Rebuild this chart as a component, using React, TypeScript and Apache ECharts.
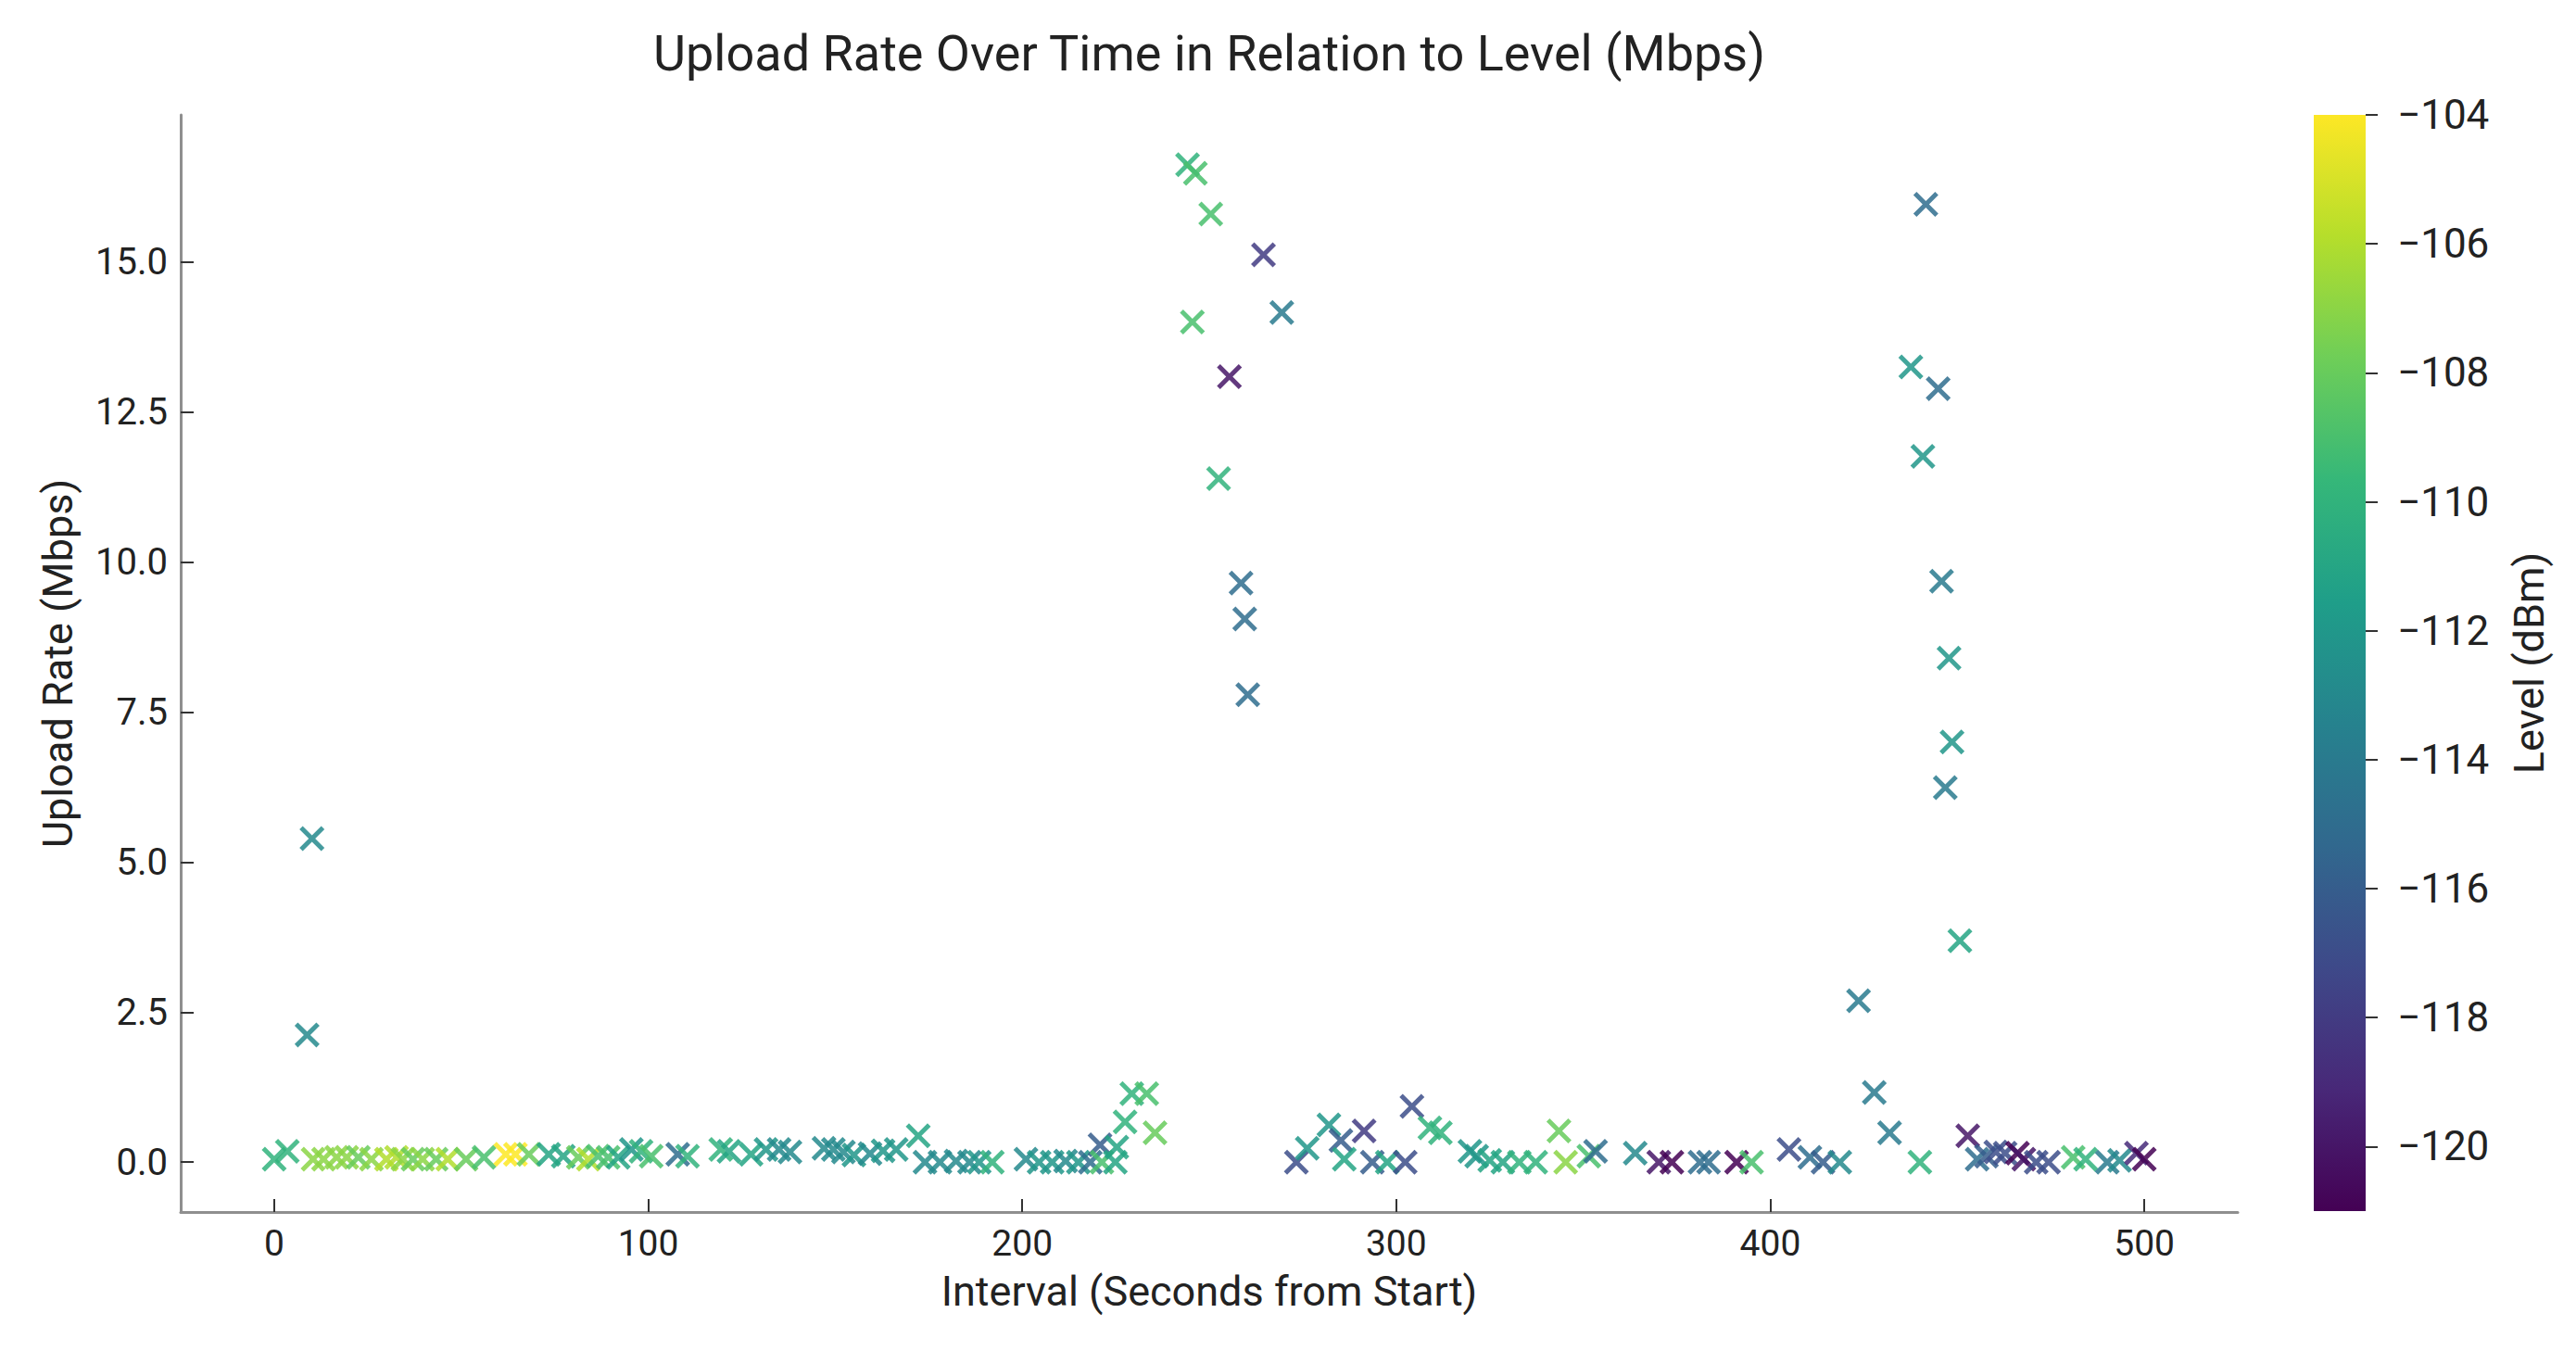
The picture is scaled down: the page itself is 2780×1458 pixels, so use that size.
import React, { useEffect, useRef } from "react";
import * as echarts from "echarts";

// Seconds from the start of the session for every sample
const intervals = [
  0, 3.5, 8.8, 10.1, 10.4, 13.2, 16.7, 19.4, 22.5, 26.0, 30.0, 32.7, 34.4, 37.1, 39.7, 43.3, 46.4, 51.3,
  56.1, 61.9, 64.5, 68.1, 73.4, 77.3, 81.3, 84.0, 86.6, 89.3, 92.0, 95.5, 98.1, 100.8, 107.9, 110.5,
  119.4, 121.6, 127.5, 131.5, 135.0, 137.9, 147.0, 149.5, 152.2, 155.0, 159.3, 162.8, 166.3, 172.2,
  174.0, 178.0, 182.3, 185.9, 188.5, 192.0, 201.0, 204.5, 208.0, 211.6, 215.0, 218.2, 220.8, 221.3,
  224.9, 225.3, 227.5, 229.3, 233.3, 235.5, 244.2, 245.5, 246.3, 250.4, 252.5, 255.4, 258.5, 259.5,
  260.3, 264.5, 269.4, 273.3, 276.2, 282.0, 285.2, 286.1, 291.4, 293.6, 297.6, 302.4, 304.2, 309.0,
  311.8, 319.7, 321.5, 325.0, 328.5, 332.9, 337.3, 343.5, 345.3, 351.5, 353.3, 363.9, 370.2, 373.7,
  381.2, 383.5, 391.0, 395.0, 405.0, 410.6, 414.1, 418.6, 423.6, 427.8, 431.9, 437.6, 440.0, 440.8,
  441.6, 444.9, 445.8, 446.8, 447.8, 448.6, 450.7, 452.8, 455.3, 457.8, 460.3, 462.8, 466.1, 467.8,
  471.1, 474.4, 481.0, 484.3, 490.1, 493.4, 497.9, 500.0,
];

// Upload rate in Mbps
const uploads = [
  0.05, 0.18, 2.12, 5.39, 0.05, 0.05, 0.08, 0.08, 0.08, 0.05, 0.05, 0.08, 0.05, 0.05, 0.05, 0.05, 0.05, 0.05,
  0.08, 0.13, 0.13, 0.13, 0.13, 0.1, 0.08, 0.05, 0.1, 0.08, 0.08, 0.21, 0.18, 0.1, 0.13, 0.1,
  0.21, 0.18, 0.13, 0.21, 0.21, 0.17, 0.23, 0.21, 0.17, 0.12, 0.14, 0.19, 0.21, 0.44,
  0.0, 0.0, 0.02, 0.0, 0.0, 0.0, 0.05, 0.0, 0.0, 0.02, 0.0, 0.0, 0.29, 0.0,
  0.0, 0.25, 0.67, 1.14, 1.14, 0.49, 16.62, 14.0, 16.48, 15.8, 11.39, 13.09, 9.65, 9.05,
  7.79, 15.12, 14.16, 0.0, 0.23, 0.62, 0.36, 0.05, 0.52, 0.0, 0.0, 0.0, 0.93, 0.57,
  0.49, 0.18, 0.1, 0.03, 0.0, 0.0, 0.0, 0.52, 0.0, 0.1, 0.18, 0.15, 0.0, 0.0,
  0.0, 0.0, 0.0, 0.0, 0.21, 0.08, 0.0, 0.0, 2.69, 1.16, 0.49, 13.25, 0.0, 11.76,
  15.96, 12.89, 9.68, 6.24, 8.4, 7.0, 3.69, 0.44, 0.05, 0.1, 0.17, 0.15, 0.15, 0.05,
  0.0, 0.0, 0.08, 0.05, 0.0, 0.03, 0.15, 0.05,
];

// Signal level in dBm
const levels = [
  -110, -110, -113, -113, -107, -107, -107, -107, -108, -107, -106, -106, -107, -108, -107, -108, -106, -108,
  -109, -104, -104, -108, -111, -111, -108, -106, -109, -109, -111, -112, -110, -109, -115, -110,
  -110, -111, -111, -112, -113, -113, -113, -113, -113, -112, -113, -112, -112, -111,
  -113, -113, -113, -113, -112, -110, -113, -112, -112, -113, -112, -115, -116, -109,
  -111, -111, -110, -110, -109, -108, -110, -109, -109, -109, -110, -120, -115, -115,
  -115, -118, -114, -117, -112, -112, -116, -111, -118, -116, -111, -117, -117, -110,
  -110, -112, -112, -111, -111, -110, -110, -108, -107, -109, -115, -113, -120, -121,
  -115, -115, -121, -109, -117, -115, -116, -113, -114, -114, -114, -112, -110, -112,
  -115, -115, -114, -114, -112, -112, -111, -120, -115, -116, -117, -117, -121, -120,
  -117, -117, -109, -110, -114, -113, -119, -121,
];

const xTicks = [0, 100, 200, 300, 400, 500];
const yTicks = [0, 2.5, 5, 7.5, 10, 12.5, 15];
const levelTicks = [-120, -118, -116, -114, -112, -110, -108, -106, -104];
const levelMin = -121;
const levelMax = -104;

const viridis = [
  "#440154", "#482878", "#3e4989", "#31688e", "#26828e",
  "#1f9e89", "#35b779", "#6ece58", "#b5de2b", "#fde725",
];

// "x" marker drawn as a filled outline with butt-cut arms
const X_MARK =
  "path://M0,13L13,0L50,37L87,0L100,13L63,50L100,87L87,100L50,63L13,100L0,87L37,50Z";

const FONT = "Roboto";
const INK = "#222222";

// Colour bar box, shared by its gradient and its value axis
const BAR = { left: 2497, top: 124, width: 56, height: 1183 };

function paddedRange(values: number[]) {
  const lo = Math.min(...values);
  const hi = Math.max(...values);
  const pad = (hi - lo) * 0.05;
  return [lo - pad, hi + pad];
}

const minus = (v: number) => String(v).replace("-", "\u2212");

export default function App() {
  const ref = useRef<HTMLDivElement>(null);

  useEffect(() => {
    if (!ref.current) return;
    const chart = echarts.init(ref.current, undefined, { renderer: "svg" });
    const [xMin, xMax] = paddedRange(intervals);
    const [yMin, yMax] = paddedRange(uploads);
    const points = intervals.map((t, i) => [t, uploads[i], levels[i]]);

    const axisLine = { show: true, onZero: false, lineStyle: { color: "#8f8f8f", width: 3 } };
    const tickStyle = { color: "#333333", width: 2 };

    // bottom (low level) to top (high level)
    const barFill = new echarts.graphic.LinearGradient(
      0, 1, 0, 0,
      viridis.map((c, i) => ({ offset: i / (viridis.length - 1), color: c }))
    );

    chart.setOption({
      animation: false,
      backgroundColor: "#ffffff",
      title: {
        text: "Upload Rate Over Time in Relation to Level (Mbps)",
        left: 1305,
        top: 30,
        padding: 0,
        textAlign: "center",
        textStyle: { fontFamily: FONT, fontSize: 54, fontWeight: "normal", color: INK },
      },
      grid: [
        { left: 195, top: 124, width: 2220, height: 1184 },
        { left: BAR.left, top: BAR.top, width: BAR.width, height: BAR.height },
      ],
      graphic: [
        {
          type: "rect",
          left: BAR.left,
          top: BAR.top,
          silent: true,
          shape: { width: BAR.width, height: BAR.height },
          style: { fill: barFill },
        },
      ],
      xAxis: [
        {
          type: "value",
          gridIndex: 0,
          min: xMin,
          max: xMax,
          axisLine,
          axisTick: { show: true, inside: true, length: 14, lineStyle: tickStyle, customValues: xTicks },
          axisLabel: {
            customValues: xTicks,
            margin: 14,
            fontFamily: FONT,
            fontSize: 39,
            color: INK,
          },
          splitLine: { show: false },
          name: "Interval (Seconds from Start)",
          nameLocation: "middle",
          nameGap: 63,
          nameTextStyle: { fontFamily: FONT, fontSize: 45, color: INK },
        },
        {
          type: "value",
          gridIndex: 1,
          min: 1,
          max: 2,
          show: false,
          axisLine: { show: false, onZero: false },
          axisTick: { show: false },
          axisLabel: { show: false },
          splitLine: { show: false },
        },
      ],
      yAxis: [
        {
          type: "value",
          gridIndex: 0,
          min: yMin,
          max: yMax,
          axisLine,
          axisTick: { show: true, inside: true, length: 14, lineStyle: tickStyle, customValues: yTicks },
          axisLabel: {
            customValues: yTicks,
            margin: 14,
            fontFamily: FONT,
            fontSize: 40,
            color: INK,
            formatter: (v: number) => v.toFixed(1),
          },
          splitLine: { show: false },
          name: "Upload Rate (Mbps)",
          nameLocation: "middle",
          nameGap: 110,
          nameTextStyle: { fontFamily: FONT, fontSize: 45, color: INK },
        },
        {
          type: "value",
          gridIndex: 1,
          min: levelMin,
          max: levelMax,
          position: "right",
          axisLine: { show: false, onZero: false },
          axisTick: { show: true, inside: false, length: 13, lineStyle: tickStyle, customValues: levelTicks },
          axisLabel: {
            customValues: levelTicks,
            margin: 34,
            fontFamily: FONT,
            fontSize: 44,
            color: INK,
            formatter: (v: number) => minus(v),
          },
          splitLine: { show: false },
          name: "Level (dBm)",
          nameLocation: "middle",
          nameRotate: 90,
          nameGap: 154,
          nameTextStyle: { fontFamily: FONT, fontSize: 45, color: INK },
        },
      ],
      visualMap: {
        type: "continuous",
        show: false,
        min: levelMin,
        max: levelMax,
        dimension: 2,
        seriesIndex: 0,
        inRange: { color: viridis },
      },
      series: [
        {
          type: "scatter",
          xAxisIndex: 0,
          yAxisIndex: 0,
          data: points,
          symbol: X_MARK,
          symbolSize: 27,
          itemStyle: { opacity: 0.85 },
          silent: true,
        },
      ],
    });

    return () => chart.dispose();
  }, []);

  return (
    <div
      ref={ref}
      style={{ position: "absolute", left: 0, top: 0, width: 2780, height: 1458 }}
    />
  );
}
